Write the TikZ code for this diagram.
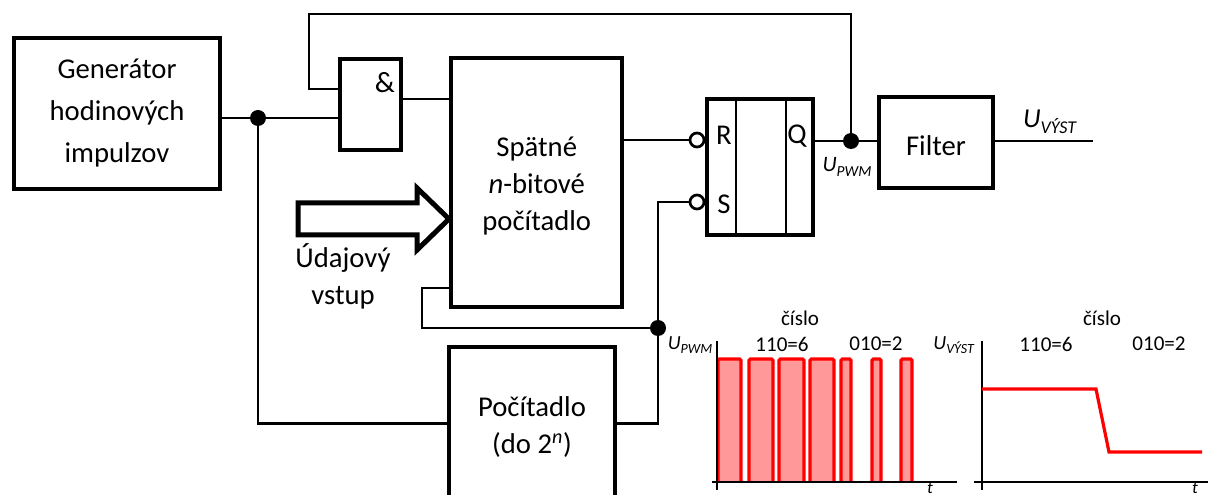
\documentclass[tikz,border=0pt]{standalone}
\usepackage{fontspec}
\setmainfont{Carlito}
\usetikzlibrary{positioning}
\definecolor{pwmRed}{HTML}{ff0000}
\definecolor{pwmFill}{HTML}{ff9999}
\tikzset{
  blok/.style={draw=black, line width=3pt, align=center, inner sep=0pt, outer sep=0pt, font=\velky},
  wire/.style={draw=black, line width=2pt},
  thin wire/.style={draw=black, line width=1.4pt},
  dot/.style={circle, fill=black, inner sep=0pt, minimum size=12pt, outer sep=0pt},
  neg/.style={circle, draw=black, fill=white, line width=2pt, inner sep=0pt, minimum size=10.5pt, outer sep=0pt},
  lbl/.style={inner sep=0pt, font=\velky},
  ann/.style={inner sep=0pt, font=\maly},
  axis/.style={draw=black, line width=1.7pt},
  curve/.style={draw=pwmRed, line width=2.4pt, line join=miter},
  pulse/.style={curve, fill=pwmFill, rounded corners=1pt},
}
\newcommand{\velky}{\fontsize{21.5}{27.8}\selectfont}
\newcommand{\maly}{\fontsize{15.8}{19}\selectfont}
\newcommand{\lift}[1]{\rule{0pt}{#1pt}}
\newcommand{\usub}[3]{\fontsize{#1}{#1}\selectfont\textit{U}\raisebox{-.22em}{\fontsize{#2}{#2}\selectfont\textit{#3}}}
\begin{document}
\begin{tikzpicture}[x=0.75pt,y=-0.75pt]
  \useasboundingbox (0,0) rectangle (1208,495);
  % bloky
  \node[blok,minimum width=154.5pt,minimum height=112.9pt,font=\fontsize{21.5}{31.5}\selectfont] (gen) at (117,113.25) {Generátor\\hodinových\\impulzov};
  \node[blok,minimum width=45.5pt,minimum height=67.9pt] (andgate) at (370.4,104.75) {};
  \node[lbl,font=\fontsize{22}{22}\selectfont] (ampersand) at (385,83) {\&};
  \node[blok,minimum width=128.6pt,minimum height=186.75pt] (spat) at (536.75,182.5) {\lift{20}Spätné\\\textit{n}-bitové\\počítadlo};
  \node[blok,minimum width=124.5pt,minimum height=117pt] (cnt) at (532,425) {\lift{18}Počítadlo\\(do 2\textsuperscript{\textit{n}})};
  \node[blok,minimum width=79.5pt,minimum height=102pt] (rs) at (760,167) {};
  \node[blok,minimum width=85.5pt,minimum height=68.25pt] (filter) at (936,142.5) {\lift{19}Filter};
  \node[lbl] (r) at (724,135) {R};
  \node[lbl] (s) at (724,204) {S};
  \node[lbl] (q) at (797,136) {Q};
  \draw[thin wire] (736,99) -- (736,235);
  \draw[thin wire] (786,99) -- (786,235);
  % uzly
  \node[dot] (clk) at (258,118) {};
  \node[dot] (pwm) at (851,141) {};
  \node[dot] (set) at (658,328) {};
  \node[neg] (negr) at (697,140) {};
  \node[neg] (negs) at (697,202) {};
  \coordinate (fbtop) at (309,14);
  \coordinate (fbin) at (309,89);
  \coordinate (lo) at (422,328);
  \coordinate (cntin) at (449,423.5);
  \coordinate (cntout) at (615,423.5);
  \coordinate (out) at (1093,141);
  % vodice
  \draw[wire] (clk -| gen.east) -- (clk) -- (clk -| andgate.west);
  \draw[wire] (clk) |- (cntin);
  \draw[wire] (pwm) |- (fbtop) -- (fbin) -- (fbin -| andgate.west);
  \draw[wire] (andgate.east |- 0,99) -- (spat.west |- 0,99);
  \draw[wire] (spat.east |- negr) -- (negr);
  \draw[wire] (negs) -| (set);
  \draw[wire] (set) |- (cntout);
  \draw[wire] (spat.west |- 0,288) -| (lo) -- (set);
  \draw[wire] (rs.east |- pwm) -- (pwm) -- (pwm -| filter.west);
  \draw[wire] (filter.east |- out) -- (out);
  % udajovy vstup
  \draw[draw=black,line width=3.75pt,fill=white,line join=miter,miter limit=10]
    (298,203) -- (417,203) -- (417,188) -- (449,219) -- (417,250) -- (417,235) -- (298,235) -- cycle;
  \node[lbl,align=center] (vstup) at (343,276) {Údajový\\vstup};
  \node[lbl] (uvyst) at (1050,122) {\usub{20.5}{13.5}{VÝST}};
  \node[lbl] (upwm) at (847,167) {\usub{16.5}{11.5}{PWM}};
  % prubehy
  \foreach \a/\b in {718/741,749/773,779/804,810/834,841/851,872/881,901/912}{
    \draw[pulse] (\a,482) -- (\a,359) -- (\b,359) -- (\b,482);}
  \draw[axis] (712,482) -- (957,482);
  \draw[axis] (717,341) -- (717,490);
  \draw[axis] (974,482) -- (1208,482);
  \draw[axis] (982,341) -- (982,490);
  \draw[curve] (982,389) -- (1096,389) -- (1109,452) -- (1202,452);
  \node[ann] (cis1) at (800,318) {číslo};
  \node[ann] (a1) at (782,344) {110=6};
  \node[ann] (b1) at (876,344) {010=2};
  \node[ann] (cis2) at (1102,318) {číslo};
  \node[ann] (a2) at (1046,344) {110=6};
  \node[ann] (b2) at (1159,344) {010=2};
  \node[ann] (upwm2) at (690,345) {\usub{15}{10.5}{PWM}};
  \node[ann] (uvyst2) at (954,345) {\usub{15}{10.5}{VÝST}};
  \node[ann,anchor=base,font=\fontsize{13}{13}\selectfont] (t1) at (930,493.5) {\textit{t}};
  \node[ann,anchor=base,font=\fontsize{13}{13}\selectfont] (t2) at (1195,493.5) {\textit{t}};
\end{tikzpicture}
\end{document}
